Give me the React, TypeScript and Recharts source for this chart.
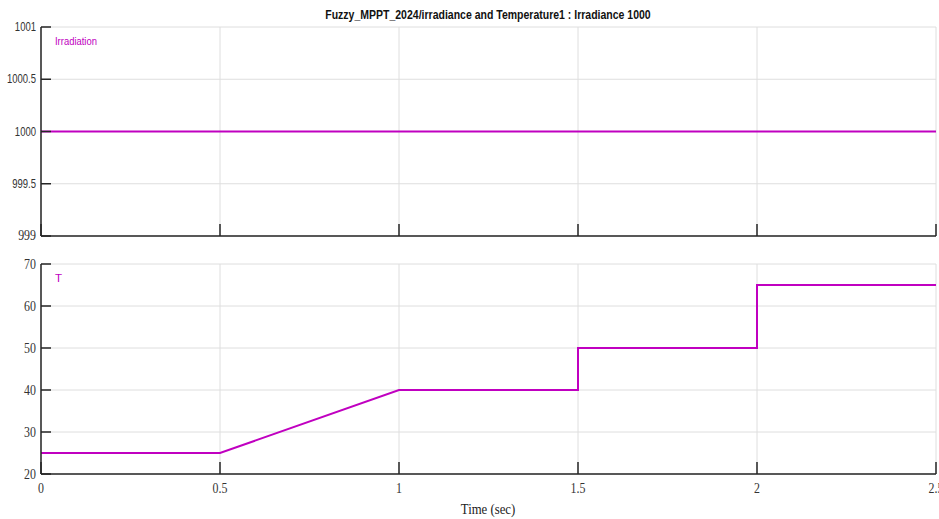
import React from "react";
import { LineChart, Line, XAxis, YAxis, CartesianGrid } from "recharts";

const timeTicks = [0, 0.5, 1, 1.5, 2, 2.5];
const irrTicks = [999, 999.5, 1000, 1000.5, 1001];
const tempTicks = [20, 30, 40, 50, 60, 70];

const irrTime = [0, 2.5];
const irrValues = [1000, 1000];

const tempTime = [0, 0.5, 1, 1.5, 1.5, 2, 2, 2.5];
const tempValues = [25, 25, 40, 40, 50, 50, 65, 65];

const irrData = irrTime.map((t, i) => ({ t, v: irrValues[i] }));
const tempData = tempTime.map((t, i) => ({ t, v: tempValues[i] }));

const LINE = "#C000C0";
const AXIS = "#262626";
const GRID = "#DEDEDE";
const SANS = "'Liberation Sans', Arial, sans-serif";
const SERIF = "'Liberation Serif', 'Times New Roman', serif";

const fmt = (v: number) => String(v);

const IrrTick = (props: any) => {
  const { x, y, payload } = props;
  const serif = payload.value === 999;
  return (
    <text
      transform={`translate(${x},${y + 4}) scale(${serif ? 0.85 : 0.76},1)`}
      textAnchor="end"
      fill="#333"
      fontSize={serif ? 14 : 12.5}
      fontFamily={serif ? SERIF : SANS}
    >
      {fmt(payload.value)}
    </text>
  );
};

const TempTick = (props: any) => {
  const { x, y, payload } = props;
  return (
    <text transform={`translate(${x},${y + 5}) scale(0.85,1)`} textAnchor="end" fill="#333" fontSize={14} fontFamily={SERIF}>
      {fmt(payload.value)}
    </text>
  );
};

const TimeTick = (props: any) => {
  const { x, y, payload } = props;
  return (
    <text transform={`translate(${x},${y + 13}) scale(0.85,1)`} textAnchor="middle" fill="#333" fontSize={14} fontFamily={SERIF}>
      {fmt(payload.value)}
    </text>
  );
};

const EmptyTick = () => <g />;

export default function App() {
  return (
    <div style={{ position: "absolute", left: 0, top: 0, width: 939, height: 519, background: "#fff", overflow: "hidden" }}>
      <div style={{ position: "absolute", left: 0, top: 0 }}>
        <LineChart width={939} height={250} data={irrData} margin={{ top: 27, right: 3, bottom: 0, left: 0 }}>
          <CartesianGrid stroke={GRID} strokeWidth={1} horizontalValues={irrTicks} verticalValues={timeTicks} />
          <XAxis
            dataKey="t"
            type="number"
            domain={[0, 2.5]}
            ticks={timeTicks}
            height={14}
            tick={EmptyTick}
            tickSize={-12}
            interval={0}
            axisLine={{ stroke: AXIS, strokeWidth: 1.5 }}
            tickLine={{ stroke: AXIS, strokeWidth: 1.5 }}
            allowDataOverflow
          />
          <YAxis
            type="number"
            domain={[999, 1001]}
            ticks={irrTicks}
            width={41}
            tick={<IrrTick />}
            tickSize={-10}
            tickMargin={15}
            axisLine={{ stroke: AXIS, strokeWidth: 1.5 }}
            tickLine={{ stroke: AXIS, strokeWidth: 1.5 }}
            interval={0}
            allowDataOverflow
          />
          <Line type="linear" dataKey="v" stroke={LINE} strokeWidth={2} dot={false} isAnimationActive={false} />
        </LineChart>
      </div>
      <div style={{ position: "absolute", left: 0, top: 250 }}>
        <LineChart width={939} height={269} data={tempData} margin={{ top: 14, right: 3, bottom: 0, left: 0 }}>
          <CartesianGrid stroke={GRID} strokeWidth={1} horizontalValues={tempTicks} verticalValues={timeTicks} />
          <XAxis
            dataKey="t"
            type="number"
            domain={[0, 2.5]}
            ticks={timeTicks}
            height={45}
            tick={<TimeTick />}
            tickSize={-12}
            tickMargin={18}
            interval={0}
            axisLine={{ stroke: AXIS, strokeWidth: 1.5 }}
            tickLine={{ stroke: AXIS, strokeWidth: 1.5 }}
            allowDataOverflow
          />
          <YAxis
            type="number"
            domain={[20, 70]}
            ticks={tempTicks}
            width={41}
            tick={<TempTick />}
            tickSize={-10}
            tickMargin={15}
            interval={0}
            axisLine={{ stroke: AXIS, strokeWidth: 1.5 }}
            tickLine={{ stroke: AXIS, strokeWidth: 1.5 }}
            allowDataOverflow
          />
          <Line type="linear" dataKey="v" stroke={LINE} strokeWidth={2} dot={false} isAnimationActive={false} />
        </LineChart>
      </div>
      <div
        style={{
          position: "absolute",
          left: 288,
          top: 8,
          width: 400,
          textAlign: "center",
          fontFamily: SANS,
          fontWeight: "bold",
          fontSize: 12.5,
          color: "#111",
          whiteSpace: "nowrap",
          transform: "scaleX(0.84)",
          transformOrigin: "50% 50%",
        }}
      >
        Fuzzy_MPPT_2024/irradiance and Temperature1 : Irradiance 1000
      </div>
      <div
        style={{
          position: "absolute",
          left: 388,
          top: 501,
          width: 200,
          textAlign: "center",
          fontFamily: SERIF,
          fontSize: 15,
          color: "#222",
          whiteSpace: "nowrap",
          transform: "scaleX(0.85)",
          transformOrigin: "50% 50%",
        }}
      >
        Time (sec)
      </div>
      <div style={{ position: "absolute", left: 55, top: 35, fontFamily: SANS, fontSize: 11.5, color: LINE, transform: "scaleX(0.82)", transformOrigin: "0 50%", whiteSpace: "nowrap" }}>
        Irradiation
      </div>
      <div style={{ position: "absolute", left: 55, top: 272, fontFamily: SANS, fontSize: 11.5, color: LINE }}>T</div>
    </div>
  );
}
